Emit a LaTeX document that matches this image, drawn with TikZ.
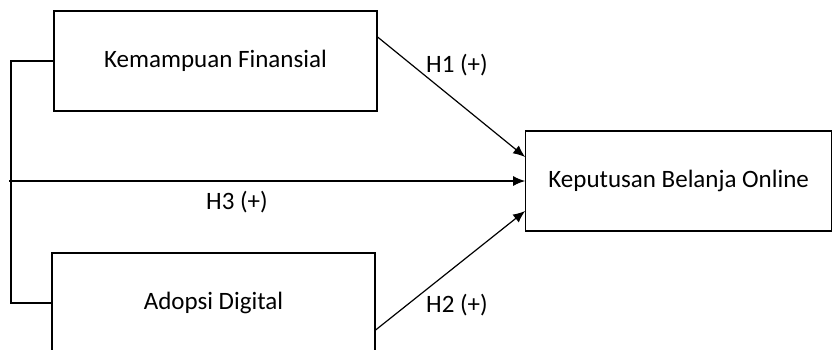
\documentclass[tikz,border=0pt]{standalone}
\usepackage{fontspec}
\setmainfont{Carlito}
\usepackage{tikz}
\usetikzlibrary{arrows.meta}

\begin{document}
\begin{tikzpicture}[x=0.5pt, y=-0.5pt, line width=0.6pt, >={Latex[length=6pt,width=5pt]},
    box/.style={draw, minimum width=161.5pt, minimum height=50pt, font=\fontsize{12.5}{15}\selectfont},
    hyp/.style={font=\fontsize{12.5}{15}\selectfont}]
    \useasboundingbox (0,0) rectangle (832,349);
    \clip (0,0) rectangle (832,349);

    % Variables
    \node[box] (fin) at (215.5, 61) {Kemampuan Finansial};
    \node[box] (ado) at (213.5, 303) {Adopsi Digital};
    \node[box, minimum width=153pt] (kbo) at (678.7, 181) {Keputusan Belanja Online};

    % Joint effect
    \coordinate (join) at (11, 181);
    \coordinate (start) at (9, 181);
    \draw (fin.west) -| (join) |- (ado.west);
    \draw[->] (start) -- (kbo.west);
    \node[hyp] (h3) at (237, 202) {H3 (+)};

    % Partial effects
    \draw[->] ([yshift=12pt]fin.east) -- ([yshift=12pt]kbo.west);
    \node[hyp] (h1) at (457, 65) {H1 (+)};
    \draw[->] ([yshift=-13.5pt]ado.east) -- ([yshift=-15pt]kbo.west);
    \node[hyp] (h2) at (457, 305) {H2 (+)};
\end{tikzpicture}
\end{document}
